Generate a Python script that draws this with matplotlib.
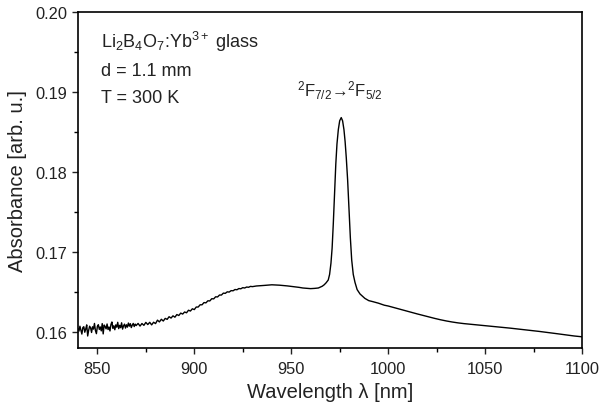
import matplotlib
matplotlib.use('Agg')
import matplotlib.pyplot as plt
from matplotlib.ticker import MultipleLocator

plt.rcParams['font.family'] = ['Liberation Sans', 'DejaVu Sans']
plt.rcParams['mathtext.fontset'] = 'custom'
plt.rcParams['mathtext.rm'] = 'Liberation Sans'
plt.rcParams['mathtext.it'] = 'Liberation Sans'

# wavelength [nm]
wavelength = [
    840.0, 840.5, 841.0, 841.5, 842.0, 842.5, 843.0, 843.5, 844.0, 844.5,
    845.0, 845.5, 846.0, 846.5, 847.0, 847.5, 848.0, 848.5, 849.0, 849.5,
    850.0, 850.5, 851.0, 851.5, 852.0, 852.5, 853.0, 853.5, 854.0, 854.5,
    855.0, 855.5, 856.0, 856.5, 857.0, 857.5, 858.0, 858.5, 859.0, 859.5,
    860.0, 860.5, 861.0, 861.5, 862.0, 862.5, 863.0, 863.5, 864.0, 864.5,
    865.0, 865.5, 866.0, 866.5, 867.0, 867.5, 868.0, 868.5, 869.0, 869.5,
    870.0,
    871, 872, 873, 874, 875, 876, 877, 878, 879, 880,
    881, 882, 883, 884, 885, 886, 887, 888, 889, 890,
    891, 892, 893, 894, 895, 896, 897, 898, 899, 900,
    901, 902, 903, 904, 905, 906, 907, 908, 909, 910,
    911, 912, 913, 914, 915, 916, 917, 918, 919, 920,
    921, 922, 923, 924, 925, 926, 927, 928, 929, 930,
    932, 934, 936, 938, 940, 942, 944, 946, 948, 950,
    952, 954, 956, 958, 960, 962, 964, 966, 967, 968,
    969.1, 969.8, 970.5, 971.1, 971.7, 972.3, 973.0, 973.6, 974.3, 975.0,
    975.8, 976.5, 977.2, 977.8, 978.4, 979.1, 979.8, 980.5, 981.2, 982.0,
    982.9, 984.0, 985.5,
    988, 990, 992, 995, 998, 1000, 1003, 1006, 1009, 1012,
    1015, 1018, 1021, 1024, 1027, 1030, 1033, 1036, 1039, 1042,
    1045, 1048, 1051, 1054, 1057, 1060, 1063, 1066, 1069, 1072,
    1075, 1078, 1081, 1084, 1087, 1090, 1093, 1096, 1100,
]

absorbance = [
    0.16040, 0.16011, 0.16072, 0.16023, 0.15974, 0.16055, 0.16066, 0.15997, 0.16038, 0.16089,
    0.15950, 0.16021, 0.16072, 0.16053, 0.15994, 0.16065, 0.16036, 0.16107, 0.16018, 0.15979,
    0.16070, 0.16091, 0.16032, 0.16063, 0.16014, 0.16105, 0.15976, 0.16087, 0.16068, 0.16039,
    0.16100, 0.16031, 0.16062, 0.16013, 0.16094, 0.16125, 0.16046, 0.16077, 0.16028, 0.16089,
    0.16060, 0.16121, 0.16042, 0.16083, 0.16054, 0.16115, 0.16036, 0.16077, 0.16098, 0.16049,
    0.16090, 0.16061, 0.16112, 0.16073, 0.16104, 0.16055, 0.16086, 0.16107, 0.16068, 0.16099,
    0.16080,
    0.16107, 0.16074, 0.16106, 0.16083, 0.16120, 0.16093, 0.16121, 0.16089, 0.16122, 0.16105,
    0.16148, 0.16126, 0.16159, 0.16137, 0.16170, 0.16158, 0.16191, 0.16174, 0.16202, 0.16185,
    0.16218, 0.16206, 0.16236, 0.16224, 0.16250, 0.16240, 0.16272, 0.16262, 0.16290, 0.16280,
    0.16312, 0.16312, 0.16340, 0.16340, 0.16368, 0.16364, 0.16390, 0.16388, 0.16416, 0.16414,
    0.16440, 0.16438, 0.16462, 0.16462, 0.16486, 0.16483, 0.16502, 0.16499, 0.16517, 0.16515,
    0.16531, 0.16528, 0.16543, 0.16540, 0.16554, 0.16550, 0.16562, 0.16559, 0.16570, 0.16567,
    0.16575, 0.16578, 0.16582, 0.16586, 0.16590, 0.16588, 0.16585, 0.16581, 0.16576, 0.16570,
    0.16564, 0.16558, 0.16550, 0.16546, 0.16542, 0.16545, 0.16550, 0.16572, 0.16590, 0.16615,
    0.16650, 0.16720, 0.16860, 0.17050, 0.17350, 0.17700, 0.18100, 0.18350, 0.18530, 0.18640,
    0.18680, 0.18640, 0.18530, 0.18380, 0.18180, 0.17900, 0.17550, 0.17180, 0.16900, 0.16720,
    0.16620, 0.16530, 0.16475,
    0.16420, 0.16392, 0.16380, 0.16360, 0.16335, 0.16325, 0.16305, 0.16284, 0.16264, 0.16245,
    0.16226, 0.16207, 0.16188, 0.16170, 0.16153, 0.16138, 0.16125, 0.16114, 0.16105, 0.16098,
    0.16091, 0.16083, 0.16076, 0.16069, 0.16062, 0.16055, 0.16048, 0.16040, 0.16032, 0.16024,
    0.16016, 0.16007, 0.15998, 0.15989, 0.15979, 0.15969, 0.15959, 0.15950, 0.15940,
]

fig = plt.figure(figsize=(5.99, 4.10), dpi=100)
ax = fig.add_axes([0.1302, 0.1488, 0.8414, 0.8195])

ax.plot(wavelength, absorbance, color='black', linewidth=1.0)

ax.set_xlim(840, 1100)
ax.set_ylim(0.158, 0.20)
ax.xaxis.set_major_locator(MultipleLocator(50))
ax.xaxis.set_minor_locator(MultipleLocator(25))
ax.yaxis.set_major_locator(MultipleLocator(0.01))
ax.yaxis.set_minor_locator(MultipleLocator(0.005))
ax.yaxis.set_major_formatter(matplotlib.ticker.FormatStrFormatter('%.2f'))

ax.tick_params(which='major', direction='out', length=4.5, width=1.0, labelsize=11.8, colors='#222222')
ax.tick_params(which='minor', direction='out', length=2.8, width=1.0)
ax.tick_params(axis='x', pad=5)
ax.tick_params(axis='y', pad=3)
for s in ax.spines.values():
    s.set_linewidth(1.2)

ax.set_xlabel('Wavelength λ [nm]', fontsize=14.5, labelpad=4, color='#222222')
ax.set_ylabel('Absorbance [arb. u.]', fontsize=14.5, labelpad=6, color='#222222')

ax.text(0.045, 0.896, 'Li$_2$B$_4$O$_7$:Yb$^{3+}$ glass', transform=ax.transAxes,
        fontsize=13, va='baseline', ha='left', color='#222222')
ax.text(0.045, 0.8125, 'd = 1.1 mm', transform=ax.transAxes,
        fontsize=13, va='baseline', ha='left', color='#222222')
ax.text(0.045, 0.732, 'T = 300 K', transform=ax.transAxes,
        fontsize=13, va='baseline', ha='left', color='#222222')
ax.text(0.519, 0.75, '$^2$F$_{7/2}$→$^2$F$_{5/2}$', transform=ax.transAxes,
        fontsize=12, va='baseline', ha='center', color='#222222')

fig.savefig('out.png', dpi=100)
